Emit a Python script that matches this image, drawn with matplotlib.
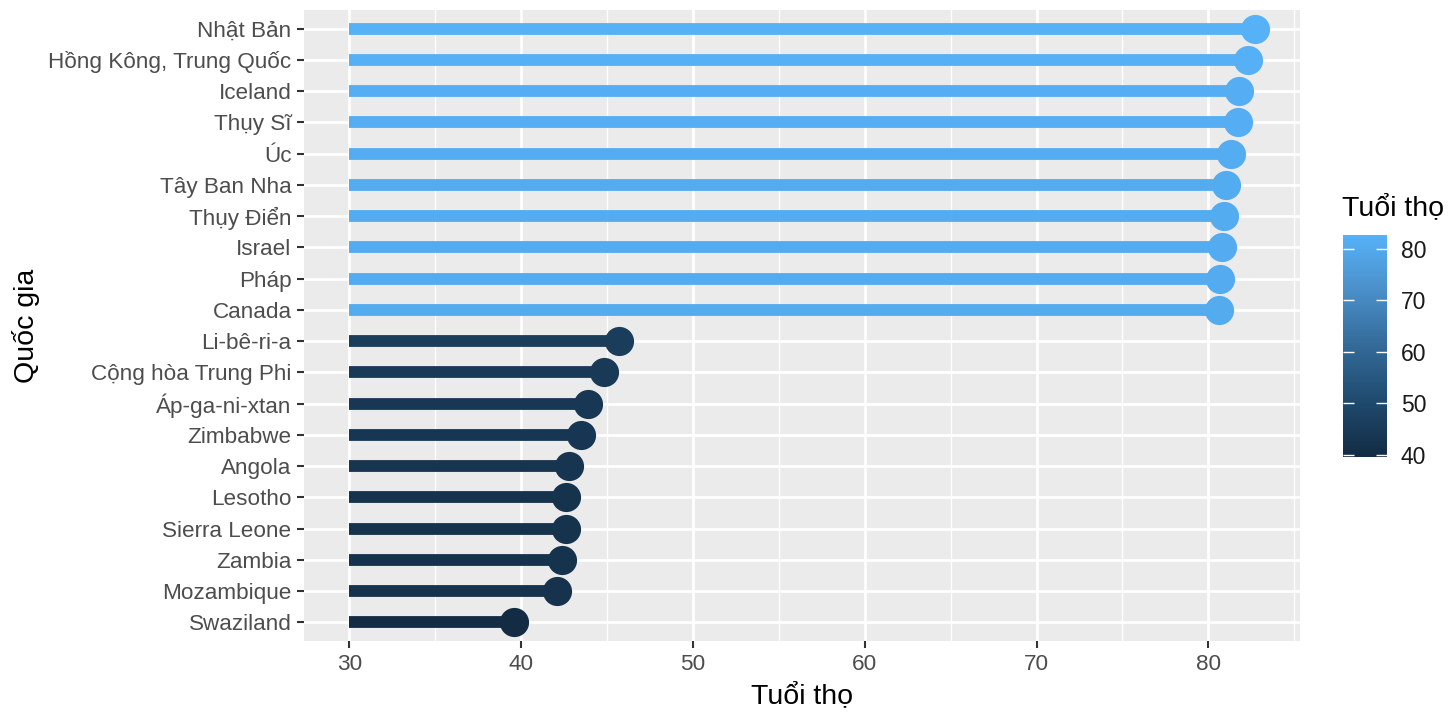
import numpy as np
import matplotlib
matplotlib.use("Agg")
import matplotlib.pyplot as plt
from matplotlib.colors import LinearSegmentedColormap, Normalize
from matplotlib.cm import ScalarMappable

plt.rcParams["font.family"] = ["Liberation Sans", "DejaVu Sans"]

# dữ liệu (từ dưới lên trên)
quoc_gia = ["Swaziland", "Mozambique", "Zambia", "Sierra Leone", "Lesotho",
            "Angola", "Zimbabwe", "Áp-ga-ni-xtan", "Cộng hòa Trung Phi",
            "Li-bê-ri-a", "Canada", "Pháp", "Israel", "Thụy Điển",
            "Tây Ban Nha", "Úc", "Thụy Sĩ", "Iceland",
            "Hồng Kông, Trung Quốc", "Nhật Bản"]
tuoi_tho = [39.6, 42.1, 42.4, 42.6, 42.6, 42.8, 43.5, 43.9, 44.8, 45.7,
            80.6, 80.7, 80.8, 80.9, 81.0, 81.3, 81.7, 81.8, 82.3, 82.7]
x_batdau = 30

cmap = LinearSegmentedColormap.from_list(
    "gg", ["#132B43", "#1F4A6E", "#336A98", "#4A8FC9", "#56B1F7"])
vmin, vmax = min(tuoi_tho), max(tuoi_tho)
norm = Normalize(vmin=vmin, vmax=vmax)

fig = plt.figure(figsize=(14.56, 7.2), dpi=100)
ax = fig.add_axes([304 / 1456, 1 - 641 / 720, (1300 - 304) / 1456, (641 - 10) / 720])
ax.set_facecolor("#EBEBEB")

y = np.arange(len(quoc_gia))
for i, (ten, v) in enumerate(zip(quoc_gia, tuoi_tho)):
    c = cmap(norm(v))
    ax.plot([x_batdau, v], [i, i], color=c, lw=8.5, solid_capstyle="butt", zorder=3)
    ax.plot(v, i, "o", color=c, ms=21, mew=0, zorder=4)

xmin_d, xmax_d = x_batdau, max(tuoi_tho)
pad = (xmax_d - xmin_d) * 0.05
ax.set_xlim(xmin_d - pad, xmax_d + pad)
ax.set_ylim(-0.6, len(quoc_gia) - 0.4)

ax.set_xticks([30, 40, 50, 60, 70, 80])
ax.set_xticks([35, 45, 55, 65, 75, 85], minor=True)
ax.set_yticks(y)
ax.set_yticklabels(quoc_gia)
ax.grid(which="major", color="white", lw=2.0, zorder=1)
ax.grid(which="minor", axis="x", color="white", lw=1.0, zorder=1)
ax.set_axisbelow(True)
for s in ax.spines.values():
    s.set_visible(False)
ax.tick_params(axis="both", which="major", labelsize=16.2, labelcolor="#4D4D4D",
               color="#333333", length=5, width=1.5, pad=4)
ax.tick_params(axis="both", which="minor", length=0)

ax.set_xlabel("Tuổi thọ", fontsize=20.5, labelpad=6)
ax.set_ylabel("Quốc gia", fontsize=20.5, labelpad=6)

# thanh màu
cax = fig.add_axes([1343 / 1456, 1 - 457 / 720, 44 / 1456, (457 - 235) / 720])
cb = fig.colorbar(ScalarMappable(norm=norm, cmap=cmap), cax=cax)
cb.outline.set_visible(False)
cb.set_ticks([40, 50, 60, 70, 80])
cax.tick_params(direction="in", color="white", length=8, width=1,
                left=True, right=True, labelsize=16.5, labelcolor="#1A1A1A", pad=10)
fig.text(1342 / 1456, 1 - 208 / 720, "Tuổi thọ", fontsize=20.5, va="center", ha="left")

fig.savefig("out.png", dpi=100)
